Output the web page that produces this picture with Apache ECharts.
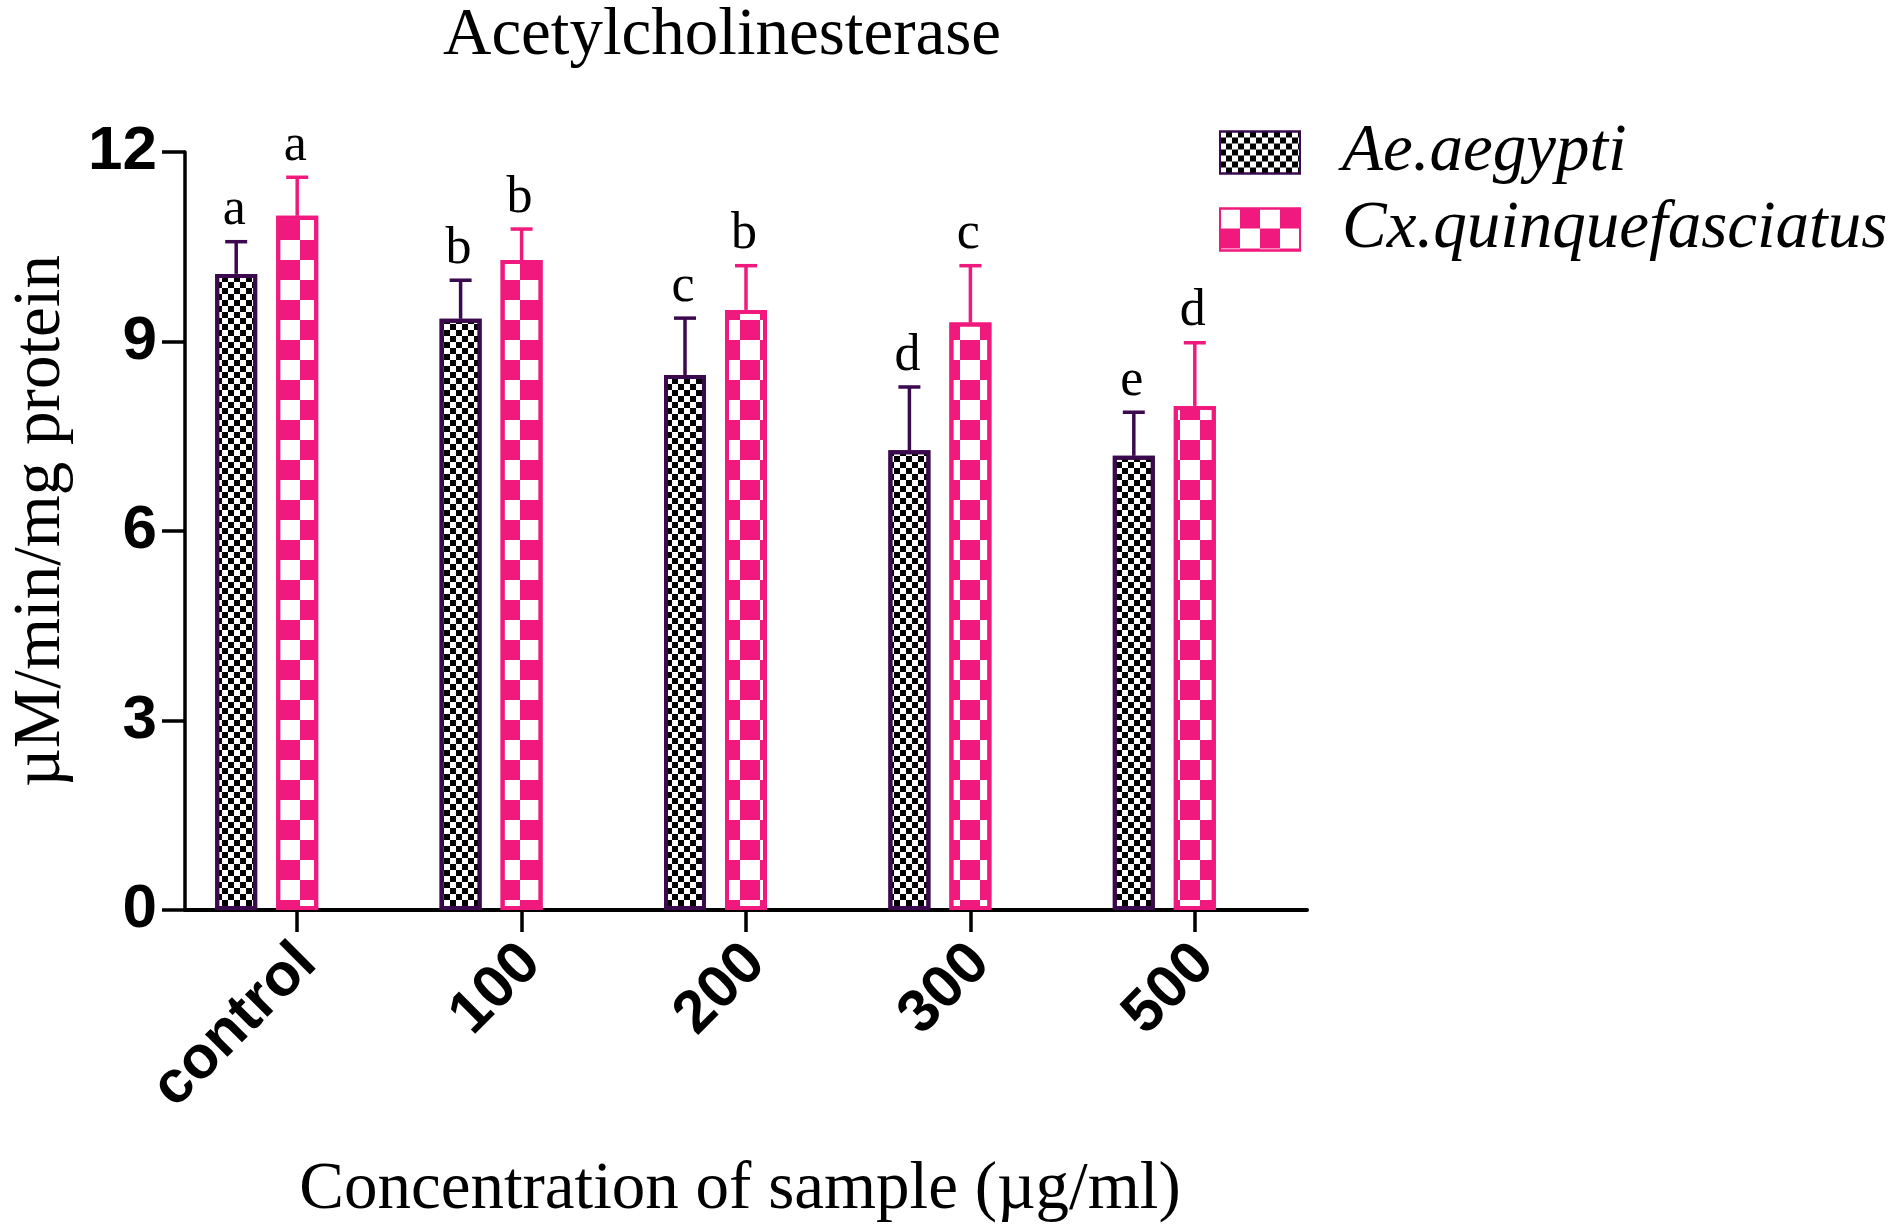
<!DOCTYPE html>
<html>
<head>
<meta charset="utf-8">
<script src="https://cdn.jsdelivr.net/npm/echarts@6/dist/echarts.min.js"></script>
<style>
html,body{margin:0;padding:0;background:#fff;}
#chart{width:1893px;height:1230px;}
</style>
</head>
<body>
<div id="chart"></div>
<script>
// ---- data ----
const categories = ['control', '100', '200', '300', '500'];
const seriesNames = ['Ae.aegypti', 'Cx.quinquefasciatus'];
const aeValues = [10.07, 9.36, 8.47, 7.28, 7.19];
const aeErrors = [0.51, 0.61, 0.90, 1.00, 0.69];
const aeLetters = ['a', 'b', 'c', 'd', 'e'];
const cxValues = [10.99, 10.29, 9.50, 9.30, 7.98];
const cxErrors = [0.61, 0.49, 0.70, 0.90, 1.00];
const cxLetters = ['a', 'b', 'b', 'c', 'd'];
const yTicks = [0, 3, 6, 9, 12];

// ---- style ----
const PURPLE = '#3b0a4e';
const PINK = '#f0197d';
const SERIF = '"Liberation Serif", "Times New Roman", serif';
const SANS = '"Liberation Sans", Arial, sans-serif';
const BAR_W = 42;
const BAR_GAP_PX = 19;
const BAR_STEP = BAR_W + BAR_GAP_PX;

const chart = echarts.init(document.getElementById('chart'), null, {renderer: 'canvas'});

function errSeries(values, errors, letters, color, offset) {
  return {
    type: 'custom',
    coordinateSystem: 'cartesian2d',
    clip: false,
    silent: true,
    z: 5,
    data: values.map((v, i) => [i, v, errors[i]]),
    renderItem: function (params, api) {
      const i = api.value(0), v = api.value(1), e = api.value(2);
      const base = api.coord([i, v]);
      const top = api.coord([i, v + e]);
      const x = base[0] + offset;
      return {
        type: 'group',
        children: [
          {type: 'line', shape: {x1: x, y1: base[1], x2: x, y2: top[1]}, style: {stroke: color, lineWidth: 3.5}},
          {type: 'line', shape: {x1: x - 11, y1: top[1], x2: x + 11, y2: top[1]}, style: {stroke: color, lineWidth: 3.5}},
          {type: 'text', x: x - 2, y: top[1] - 5, style: {text: letters[params.dataIndex], align: 'center', verticalAlign: 'bottom', fontFamily: SERIF, fontSize: 52, fill: '#000'}}
        ]
      };
    }
  };
}

const option = {
  backgroundColor: '#fff',
  animation: false,
  title: {
    text: 'Acetylcholinesterase',
    left: 443,
    top: 3,
    padding: 0,
    textStyle: {fontFamily: SERIF, fontSize: 67, fontWeight: 'normal', color: '#000', lineHeight: 67}
  },
  legend: {
    orient: 'vertical',
    left: 1219,
    top: 119,
    padding: 0,
    itemWidth: 80,
    itemHeight: 42,
    itemGap: 10,
    icon: 'rect',
    data: seriesNames,
    textStyle: {fontFamily: SERIF, fontStyle: 'italic', fontSize: 67, color: '#000', lineHeight: 66, padding: [0, 0, 0, 37]}
  },
  grid: {left: 176, right: 586, top: 152, bottom: 320, containLabel: false},
  xAxis: {
    type: 'category',
    data: categories,
    name: 'Concentration of sample (µg/ml)',
    nameLocation: 'middle',
    nameGap: 247,
    nameTextStyle: {fontFamily: SERIF, fontSize: 67, color: '#000', lineHeight: 67, padding: [0, 12, 0, 0]},
    axisLine: {show: true, lineStyle: {color: '#000', width: 4}},
    axisTick: {show: true, alignWithLabel: true, length: 22, lineStyle: {color: '#000', width: 3.5}},
    axisLabel: {rotate: 45, margin: 34, verticalAlign: 'top', lineHeight: 28, fontFamily: SANS, fontWeight: 'bold', fontSize: 60, color: '#000', interval: 0},
    splitLine: {show: false}
  },
  yAxis: {
    type: 'value',
    min: yTicks[0],
    max: yTicks[yTicks.length - 1],
    interval: yTicks[1] - yTicks[0],
    name: 'µM/min/mg protein',
    nameLocation: 'middle',
    nameGap: 110,
    nameTextStyle: {fontFamily: SERIF, fontSize: 67, color: '#000', lineHeight: 67, padding: [0, 0, 0, 20]},
    axisLine: {show: true, lineStyle: {color: '#000', width: 3.5}},
    axisTick: {show: true, length: 23, lineStyle: {color: '#000', width: 3.5}},
    axisLabel: {margin: 28, fontFamily: SANS, fontWeight: 'bold', fontSize: 62, color: '#000'},
    splitLine: {show: false}
  },
  series: [
    {
      name: seriesNames[0],
      type: 'bar',
      data: aeValues,
      barWidth: BAR_W,
      barGap: (BAR_GAP_PX / BAR_W * 100) + '%',
      itemStyle: {
        color: '#ffffff',
        borderColor: PURPLE,
        borderWidth: 4,
        decal: {symbol: 'rect', symbolSize: 1, dashArrayX: [[6, 6], [0, 6, 6, 0]], dashArrayY: [6, 0], color: '#000000'}
      }
    },
    {
      name: seriesNames[1],
      type: 'bar',
      data: cxValues,
      barWidth: BAR_W,
      barGap: (BAR_GAP_PX / BAR_W * 100) + '%',
      itemStyle: {
        color: '#ffffff',
        borderColor: PINK,
        borderWidth: 4,
        decal: {symbol: 'rect', symbolSize: 1, dashArrayX: [[20, 20], [0, 20, 20, 0]], dashArrayY: [20, 0], color: PINK}
      }
    },
    {
      name: '_spacer',
      type: 'bar',
      data: categories.map(() => '-'),
      barWidth: BAR_W,
      barGap: (BAR_GAP_PX / BAR_W * 100) + '%',
      silent: true
    },
    errSeries(aeValues, aeErrors, aeLetters, PURPLE, -BAR_STEP),
    errSeries(cxValues, cxErrors, cxLetters, PINK, 0)
  ]
};
chart.setOption(option);
</script>
</body>
</html>
